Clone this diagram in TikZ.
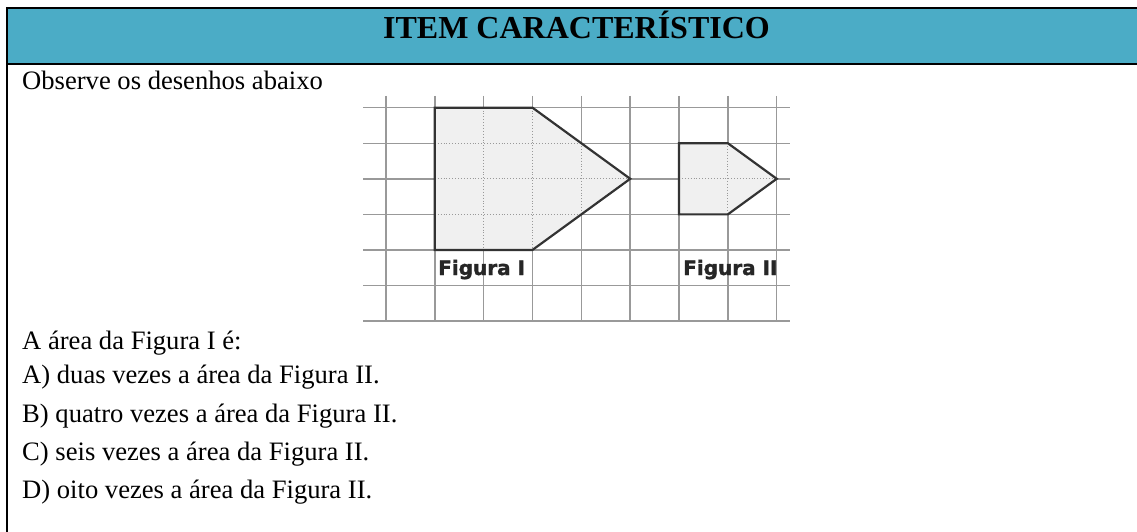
\documentclass[tikz,border=0pt]{standalone}
\usepackage{fontspec}
\setmainfont{Liberation Serif}
\newfontfamily\figfont[BoldFeatures = {FakeBold = 1.6}]{DejaVu Sans}
\usepackage{tikz}
\definecolor{cabeca}{HTML}{4BACC6}
\definecolor{preenche}{HTML}{F0F0F0}
\definecolor{contorno}{HTML}{333333}
\definecolor{malha}{HTML}{999999}

\begin{document}
\begin{tikzpicture}[x=1pt, y=-1pt,
        linha/.style = {draw = malha, line width = 1.5pt},
        pontos/.style = {draw = black!40, dotted, line width = 0.9pt},
        figura/.style = {draw = contorno, line width = 2.2pt, line join = miter},
        texto/.style = {anchor = base west, inner sep = 0pt, font = \fontsize{26.6}{30}\selectfont},
        rotulo/.style = {anchor = base west, inner sep = 0pt, font = \figfont\bfseries\fontsize{20}{24}\selectfont, text = black!85}]
                \clip (0, 0) rectangle (1137, 532);
                % cabecalho
                \fill[cabeca] (7, 8) rectangle (1140, 64);
                \draw[line width = 2pt] (1140, 8) -- (7, 8) -- (7, 540);
                \draw[line width = 2pt] (7, 64) -- (1140, 64);
                \node[anchor = base, inner sep = 0pt, font = \bfseries\fontsize{32}{36}\selectfont] (titulo) at (576.5, 38.5) {ITEM CARACTERÍSTICO};

                \node[texto] (obs) at (22, 90) {Observe os desenhos abaixo};

                % malha quadriculada
                \begin{scope}[shift = {(386, 107.7)}, x = 48.84pt, y = -35.55pt]
                    \foreach \i in {0, ..., 8} {
                        \draw[linha] (\i, -0.33) -- (\i, 6);
                    }
                    \foreach \j in {0, ..., 6} {
                        \draw[linha] (-0.47, \j) -- (8.27, \j);
                    }
                    % figura I
                    \fill[preenche] (1, 0) -- (3, 0) -- (5, 2) -- (3, 4) -- (1, 4) -- cycle;
                    \foreach \i in {2, 3} {
                        \draw[pontos] (\i, 0) -- (\i, 4);
                    }
                    \draw[pontos] (4, 1) -- (4, 3);
                    \draw[pontos] (1, 1) -- (4, 1);
                    \draw[pontos] (1, 2) -- (5, 2);
                    \draw[pontos] (1, 3) -- (4, 3);
                    \draw[figura] (1, 0) -- (3, 0) -- (5, 2) -- (3, 4) -- (1, 4) -- cycle;
                    % figura II
                    \fill[preenche] (6, 1) -- (7, 1) -- (8, 2) -- (7, 3) -- (6, 3) -- cycle;
                    \draw[pontos] (7, 1) -- (7, 3);
                    \draw[pontos] (6, 2) -- (8, 2);
                    \draw[figura] (6, 1) -- (7, 1) -- (8, 2) -- (7, 3) -- (6, 3) -- cycle;
                \end{scope}
                \node[rotulo] (figI) at (438, 275) {Figura I};
                \node[rotulo] (figII) at (683, 275) {Figura II};

                % pergunta e alternativas
                \node[texto] (perg) at (22, 349) {A área da Figura I é:};
                \node[texto] (altA) at (22, 383) {A) duas vezes a área da Figura II.};
                \node[texto] (altB) at (22, 422) {B) quatro vezes a área da Figura II.};
                \node[texto] (altC) at (22, 460) {C) seis vezes a área da Figura II.};
                \node[texto] (altD) at (22, 498) {D) oito vezes a área da Figura II.};
            \end{tikzpicture}
\end{document}
